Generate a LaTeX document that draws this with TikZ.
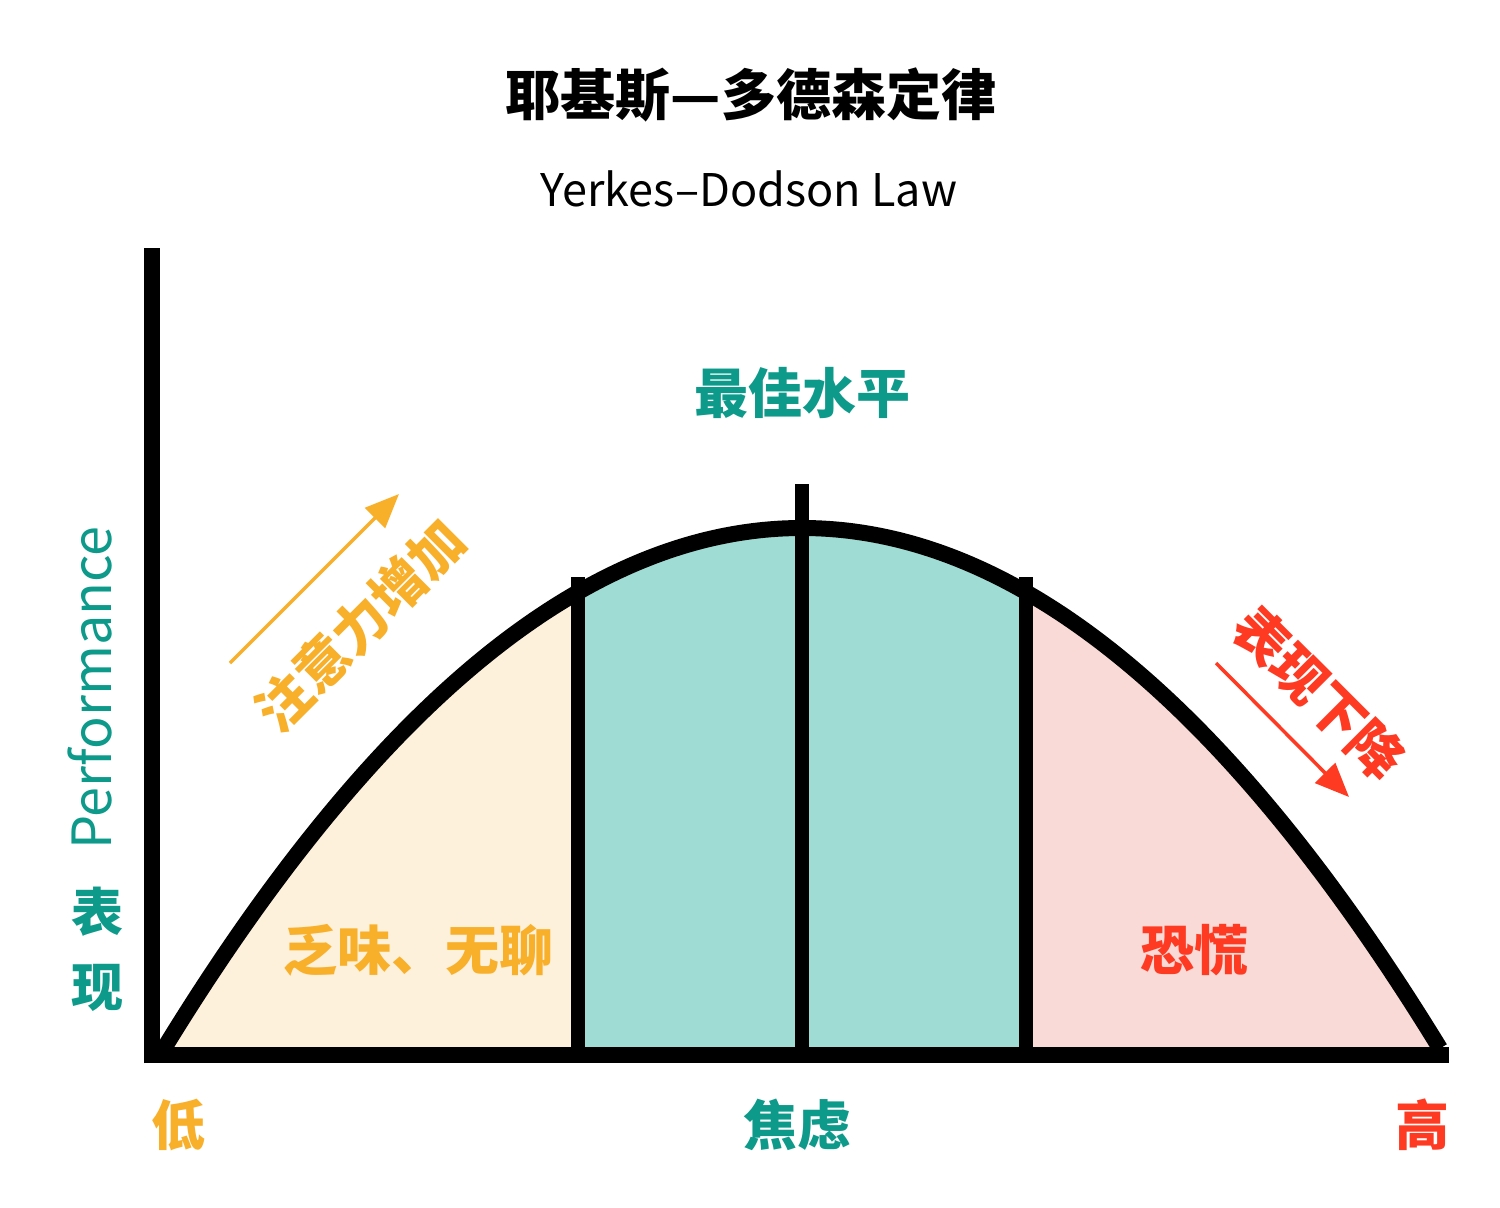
\documentclass[tikz,border=0pt]{standalone}
\usepackage{fontspec}
\setmainfont{Noto Sans CJK SC}
\usetikzlibrary{arrows.meta}
\definecolor{cream}{HTML}{FEF1DC}
\definecolor{tealfill}{HTML}{9FDCD4}
\definecolor{pinkfill}{HTML}{F9DAD7}
\definecolor{orangetx}{HTML}{F8AF2A}
\definecolor{tealtx}{HTML}{0E9A8A}
\definecolor{redtx}{HTML}{FE3A22}
\tikzset{
  thick line/.style={line width=16pt,black},
  big label/.style={font=\fontsize{54}{54}\selectfont\bfseries,inner sep=0pt},
  thin arrow/.style={line width=3.5pt,-{Triangle[length=34pt,width=28pt]}},
}
\begin{document}
\begin{tikzpicture}[x=1pt,y=-1pt]
\useasboundingbox (0,0) rectangle (1500,1208);
\fill[white] (0,0) rectangle (1500,1208);
% fills
\fill[cream] plot[domain=160:578,samples=80] (\x,{528+527*((\x-802)/642)^2}) -- (578,1055) -- cycle;
\fill[tealfill] plot[domain=578:1026,samples=80] (\x,{528+527*((\x-802)/642)^2}) -- (1026,1055) -- (578,1055) -- cycle;
\fill[pinkfill] (1026,1055) -- plot[domain=1026:1440,samples=80] (\x,{528+527*((\x-802)/642)^2}) -- (1440,1055) -- cycle;
% curve
\draw[thick line,line join=round] plot[domain=160:1440,samples=200] (\x,{528+527*((\x-802)/642)^2});
% dividers
\coordinate (d1b) at (578,1055); \coordinate (d1t) at (578,577);
\coordinate (d2b) at (802,1055); \coordinate (d2t) at (802,484);
\coordinate (d3b) at (1026,1055); \coordinate (d3t) at (1026,577);
\draw[line width=14pt] (d1b) -- (d1t);
\draw[line width=14pt] (d2b) -- (d2t);
\draw[line width=14pt] (d3b) -- (d3t);
% axes
\coordinate (ytop) at (152,248); \coordinate (ybot) at (152,1063);
\coordinate (xl) at (144,1055); \coordinate (xr) at (1449,1055);
\draw[thick line] (ybot) -- (ytop);
\draw[thick line] (xl) -- (xr);
% titles
\node[font=\fontsize{55}{55}\selectfont\bfseries,inner sep=0pt] (title) at (751,95) {耶基斯—多德森定律};
\node[font=\fontsize{45}{45}\selectfont,inner sep=0pt] (subtitle) at (749,189) {Yerkes–Dodson Law};
% labels
\node[big label,text=tealtx] (best) at (802,393) {最佳水平};
\node[big label,text=orangetx] (bored) at (418,950) {乏味、无聊};
\node[big label,text=redtx] (panic) at (1194,950) {恐慌};
\node[big label,text=orangetx] (low) at (178,1125) {低};
\node[big label,text=tealtx] (anx) at (797,1125) {焦虑};
\node[big label,text=redtx] (high) at (1422,1125) {高};
\node[font=\fontsize{54}{54}\selectfont,text=tealtx,rotate=90,inner sep=0pt] (perf) at (90,688) {Performance};
\node[font=\fontsize{52}{52}\selectfont\bfseries,text=tealtx,inner sep=0pt] (biao) at (97,912) {表};
\node[font=\fontsize{52}{52}\selectfont\bfseries,text=tealtx,inner sep=0pt] (xian) at (97,988) {现};
% arrows
\coordinate (oa1) at (230,663); \coordinate (oa2) at (399,494);
\draw[thin arrow,orangetx] (oa1) -- (oa2);
\node[big label,text=orangetx,rotate=45] (attn) at (360,625) {注意力增加};
\coordinate (ra1) at (1216,663); \coordinate (ra2) at (1349,797);
\draw[thin arrow,redtx] (ra1) -- (ra2);
\node[big label,text=redtx,rotate=-45] (drop) at (1319,693) {表现下降};
\end{tikzpicture}
\end{document}
